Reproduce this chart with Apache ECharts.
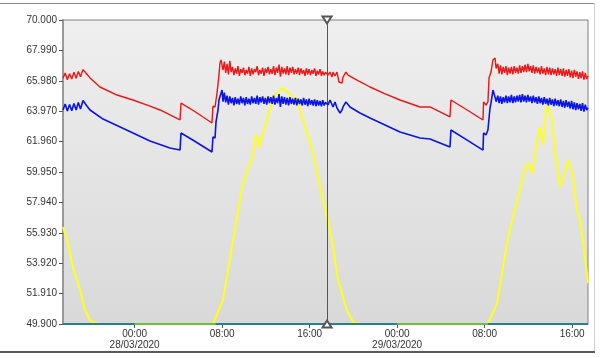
<!DOCTYPE html>
<html><head><meta charset="utf-8">
<script src="https://cdn.jsdelivr.net/npm/echarts@6/dist/echarts.min.js"></script>
<style>html,body{margin:0;padding:0;background:#fff}#c{width:600px;height:358px}</style>
</head><body><div id="c"></div>
<script>
// ---- axis ticks ----
const yTicks = [49.9, 51.91, 53.92, 55.93, 57.94, 59.95, 61.96, 63.97, 65.98, 67.99, 70];
const yMin = 49.9, yMax = 70;
// x in hours relative to 28/03/2020 00:00
const xMin = -6.55, xMax = 41.45;
const xTickHours = [0, 8, 16, 24, 32, 40];
const xTickLabels = ['00:00\n28/03/2020', '08:00', '16:00', '00:00\n29/03/2020', '08:00', '16:00'];
const cursorHour = 17.59;
const noiseStep = 0.125;

// ---- red series ----
const redHoursStart = [-6.55, -6.35, -6.15, -5.95, -5.75, -5.55, -5.35, -5.15, -4.95, -4.72, -4.40, -4.08, -3.17, -1.61, -0.15, 1.40, 2.32, 3.23, 4.15, 4.24, 5.50, 7.07, 7.16, 7.35, 7.53, 7.62, 7.71, 7.80, 7.90, 7.99, 8.08];
const redValuesStart = [66.15, 66.50, 66.05, 66.45, 66.10, 66.55, 66.15, 66.60, 66.25, 66.72, 66.45, 66.17, 65.57, 65.04, 64.71, 64.31, 64.05, 63.72, 63.39, 64.51, 63.95, 63.19, 64.31, 64.25, 65.17, 65.24, 66.36, 67.16, 67.36, 67.49, 66.69];
const redNoise1Start = 8.2;
const redNoise1 = [67.25, 66.50, 67.10, 66.40, 67.30, 66.55, 66.90, 66.35, 66.80, 66.45,
  66.95, 66.30, 66.75, 66.50, 66.85, 66.35, 66.70, 66.45, 66.90, 66.30,
  66.80, 66.40, 66.75, 66.55, 66.95, 66.35, 66.70, 66.45, 66.85, 66.30,
  66.80, 66.50, 66.90, 66.40, 66.75, 66.45, 66.95, 66.35, 66.85, 66.50,
  67.05, 66.25, 66.90, 66.45, 66.80, 66.40, 66.95, 66.35, 66.85, 66.50,
  66.90, 66.40, 66.75, 66.45, 66.85, 66.35, 66.80, 66.45, 66.70, 66.30,
  66.80, 66.40, 66.75, 66.35, 66.70, 66.45, 66.80, 66.30, 66.65, 66.40,
  66.75, 66.30, 66.60, 66.35, 66.55];
const redHoursMid = [17.59, 17.68, 17.86, 18.04, 18.14, 18.32, 18.50, 18.68, 18.96, 19.05, 19.32, 19.51, 20.33, 21.52, 22.80, 24.26, 26.09, 27.00, 28.83, 28.92, 30.40, 31.85, 31.90, 32.12, 32.30, 32.40, 32.58, 32.76, 32.95, 33.05];
const redValuesMid = [66.50, 66.36, 66.56, 66.23, 66.56, 66.30, 66.56, 65.90, 65.83, 66.23, 66.56, 66.36, 66.03, 65.57, 65.15, 64.71, 64.25, 64.25, 63.59, 64.71, 64.05, 63.39, 64.58, 64.38, 64.58, 66.17, 66.56, 67.36, 67.49, 66.80];
const redNoise2Start = 33.2;
const redNoise2 = [67.10, 66.45, 67.00, 66.40, 66.90, 66.50, 66.95, 66.35, 66.85, 66.45,
  66.90, 66.40, 66.95, 66.50, 66.85, 66.45, 67.00, 66.50, 66.95, 66.55,
  67.05, 66.55, 67.10, 66.60, 66.95, 66.50, 67.00, 66.45, 66.90, 66.50,
  66.85, 66.40, 66.95, 66.45, 66.80, 66.35, 66.90, 66.40, 66.85, 66.35,
  66.80, 66.40, 66.75, 66.30, 66.85, 66.35, 66.75, 66.30, 66.80, 66.25,
  66.70, 66.30, 66.75, 66.20, 66.65, 66.15, 66.70, 66.25, 66.60, 66.10,
  66.55, 66.15, 66.60, 66.05, 66.50, 66.10, 66.30];

// ---- blue series ----
const blueHoursStart = [-6.55, -6.35, -6.15, -5.95, -5.75, -5.55, -5.35, -5.15, -4.95, -4.72, -4.40, -4.08, -2.89, -0.15, 1.40, 3.23, 4.15, 4.24, 5.50, 7.07, 7.16, 7.35, 7.44, 7.62, 7.71, 7.90, 7.99, 8.08];
const blueValuesStart = [64.05, 64.45, 63.98, 64.42, 64.00, 64.48, 64.05, 64.55, 64.12, 64.68, 64.35, 64.05, 63.45, 62.53, 62.00, 61.54, 61.40, 62.53, 61.98, 61.27, 62.26, 62.20, 63.26, 64.05, 64.71, 65.17, 65.37, 64.60];
const blueNoise1Start = 8.2;
const blueNoise1 = [65.20, 64.55, 65.00, 64.40, 64.95, 64.50, 64.85, 64.35, 64.90, 64.45,
  64.80, 64.40, 64.95, 64.50, 64.85, 64.35, 64.90, 64.45, 64.80, 64.40,
  64.95, 64.50, 64.85, 64.45, 65.00, 64.40, 64.90, 64.55, 64.95, 64.45,
  64.85, 64.40, 64.95, 64.50, 64.90, 64.45, 65.00, 64.40, 64.85, 64.50,
  65.10, 64.25, 64.95, 64.45, 64.90, 64.40, 64.85, 64.35, 64.90, 64.45,
  64.80, 64.40, 64.85, 64.35, 64.80, 64.45, 64.75, 64.35, 64.85, 64.40,
  64.75, 64.30, 64.80, 64.40, 64.70, 64.35, 64.75, 64.30, 64.70, 64.35,
  64.65, 64.30, 64.70, 64.35, 64.55];
const blueHoursMid = [17.59, 17.68, 17.86, 18.14, 18.32, 18.50, 18.78, 18.96, 19.05, 19.32, 19.69, 20.60, 21.52, 24.26, 26.09, 27.00, 28.83, 28.92, 30.40, 31.85, 31.90, 32.12, 32.30, 32.49, 32.58, 32.76, 32.95, 33.05];
const blueValuesMid = [64.55, 64.38, 64.71, 64.25, 64.58, 64.18, 63.85, 64.05, 64.25, 64.58, 64.25, 63.85, 63.52, 62.59, 62.20, 62.13, 61.60, 62.73, 62.06, 61.40, 62.53, 62.40, 62.73, 64.18, 64.51, 65.37, 64.90, 64.60];
const blueNoise2Start = 33.2;
const blueNoise2 = [65.00, 64.50, 64.95, 64.45, 64.90, 64.55, 65.00, 64.50, 64.95, 64.55,
  65.05, 64.50, 64.95, 64.55, 65.00, 64.60, 65.05, 64.55, 65.10, 64.60,
  65.00, 64.55, 65.05, 64.60, 64.95, 64.50, 65.00, 64.55, 64.90, 64.45,
  64.95, 64.50, 64.85, 64.40, 64.90, 64.45, 64.80, 64.35, 64.85, 64.40,
  64.75, 64.30, 64.80, 64.35, 64.70, 64.30, 64.75, 64.25, 64.65, 64.20,
  64.70, 64.25, 64.60, 64.15, 64.65, 64.10, 64.55, 64.05, 64.50, 64.10,
  64.45, 64.00, 64.50, 63.95, 64.40, 64.05, 64.20];

// ---- yellow series ----
const yellowHours = [-6.55, -6.18, -5.64, -4.99, -4.54, -4.08, -3.62, -3.17, 7.16, 8.08, 9.00, 9.82, 10.37, 10.73, 11.00, 11.19, 11.37, 11.64, 12.10, 12.65, 13.56, 14.84, 15.39, 16.31, 16.95, 17.59, 18.04, 18.59, 19.41, 19.96, 20.60, 32.31, 33.13, 34.10, 35.69, 35.96, 36.33, 36.79, 37.06, 37.34, 37.60, 37.79, 38.16, 38.43, 38.89, 39.35, 39.62, 39.99, 40.44, 40.72, 40.99, 41.45];
const yellowValues = [56.31, 55.45, 53.67, 52.15, 50.83, 50.16, 49.96, 49.90, 49.90, 51.49, 55.45, 58.96, 60.28, 60.74, 62.20, 62.40, 61.60, 62.26, 63.39, 64.91, 65.50, 64.71, 63.39, 61.21, 58.96, 56.97, 55.45, 52.81, 50.83, 50.03, 49.90, 49.90, 51.29, 55.45, 60.21, 60.54, 59.88, 62.07, 62.93, 61.74, 64.05, 64.38, 63.39, 61.27, 58.96, 59.88, 60.74, 59.95, 57.44, 56.78, 55.45, 52.61];

// ---- bottom series ----
const tealHours = [-6.55, 41.45];
const tealValues = [49.9, 49.9];
const greenStarts = [0, 24];
const greenEnds = [7.4, 32.3];
const greenValue = 49.9;

// ---- build data ----
function pairs(h, v) { return h.map((x, i) => [x, v[i]]); }
function noise(start, vals) { return vals.map((v, i) => [+(start + i * noiseStep).toFixed(3), v]); }
const redData = [].concat(pairs(redHoursStart, redValuesStart), noise(redNoise1Start, redNoise1), pairs(redHoursMid, redValuesMid), noise(redNoise2Start, redNoise2));
const blueData = [].concat(pairs(blueHoursStart, blueValuesStart), noise(blueNoise1Start, blueNoise1), pairs(blueHoursMid, blueValuesMid), noise(blueNoise2Start, blueNoise2));
const yellowData = pairs(yellowHours, yellowValues);
const tealData = pairs(tealHours, tealValues);
const greenData = [];
greenStarts.forEach((s, i) => {
  if (i > 0) greenData.push([(greenEnds[i - 1] + s) / 2, '-']);
  greenData.push([s, greenValue], [greenEnds[i], greenValue]);
});

const FONT = "'Liberation Sans Narrow', 'Arial Narrow', 'Liberation Sans', sans-serif";
const chart = echarts.init(document.getElementById('c'), null, { renderer: 'canvas' });
chart.setOption({
  animation: false,
  backgroundColor: '#ffffff',
  grid: {
    left: 63, right: 12, top: 20, bottom: 34, show: true,
    backgroundColor: { type: 'linear', x: 0, y: 0, x2: 0, y2: 1, colorStops: [{ offset: 0, color: '#efefef' }, { offset: 1, color: '#d9d9d9' }] },
    borderColor: '#808080', borderWidth: 1
  },
  graphic: [
    { type: 'line', shape: { x1: 0, y1: 3.5, x2: 594, y2: 3.5 }, style: { stroke: '#8a8a8a', lineWidth: 1 }, silent: true },
    { type: 'line', shape: { x1: 594.5, y1: 3, x2: 594.5, y2: 352 }, style: { stroke: '#cfcfcf', lineWidth: 1 }, silent: true },
    { type: 'line', shape: { x1: 0, y1: 352, x2: 595, y2: 352 }, style: { stroke: '#5a5a5a', lineWidth: 2 }, silent: true }
  ],
  xAxis: {
    type: 'value', min: xMin, max: xMax,
    axisLine: { show: true, onZero: false, lineStyle: { color: '#808080', width: 1 } },
    axisTick: { show: true, customValues: xTickHours, length: 4, lineStyle: { color: '#555' } },
    axisLabel: {
      customValues: xTickHours, margin: 5, color: '#333', fontSize: 10, lineHeight: 11, fontFamily: FONT,
      formatter: (v) => { const i = xTickHours.indexOf(Math.round(v)); return i >= 0 ? xTickLabels[i] : ''; }
    },
    splitLine: { show: false }
  },
  yAxis: {
    type: 'value', min: yMin, max: yMax,
    axisLine: { show: true, onZero: false, lineStyle: { color: '#9a9a9a', width: 2 } },
    axisTick: { show: true, customValues: yTicks, length: 4, lineStyle: { color: '#555' } },
    axisLabel: { customValues: yTicks, margin: 6, color: '#333', fontSize: 10, fontFamily: FONT, formatter: (v) => v.toFixed(3) },
    splitLine: { show: false }
  },
  series: [
    { type: 'line', data: yellowData, symbol: 'none', lineStyle: { color: '#ffff1a', width: 2 }, z: 2 },
    { type: 'line', data: tealData, symbol: 'none', lineStyle: { color: '#2a7f8c', width: 2 }, z: 3 },
    { type: 'line', data: greenData, symbol: 'none', connectNulls: false, lineStyle: { color: '#6cc040', width: 2 }, z: 4 },
    { type: 'line', data: blueData, symbol: 'none', lineStyle: { color: '#0a14e6', width: 1.6 }, z: 5 },
    { type: 'line', data: redData, symbol: 'none', lineStyle: { color: '#f01414', width: 1.4 }, z: 6,
      markLine: {
        silent: true, animation: false, label: { show: false },
        symbol: ['emptyTriangle', 'emptyTriangle'], symbolSize: [9, 7],
        lineStyle: { color: '#555', width: 1, type: 'solid' },
        emphasis: { disabled: true },
        data: [[{ coord: [cursorHour, yMin], symbolRotate: 0 }, { coord: [cursorHour, yMax], symbolRotate: 180 }]]
      }
    }
  ]
});
</script></body></html>
